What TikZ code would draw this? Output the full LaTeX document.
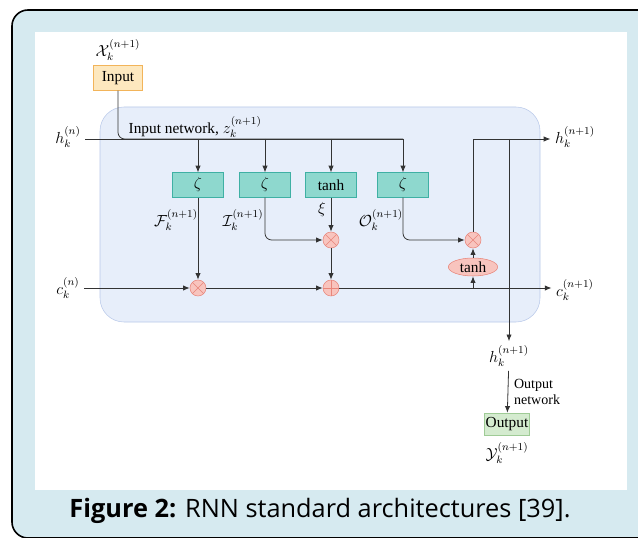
\documentclass[tikz,border=0pt]{standalone}
\usepackage{fontspec}
\setmainfont{Liberation Serif}
\newfontfamily\capfont{Open Sans}
\usetikzlibrary{shapes, arrows.meta, positioning, backgrounds}

\definecolor{framebg}{HTML}{D6EAF0}
\definecolor{netfill}{HTML}{E7EEFA}
\definecolor{netdraw}{HTML}{B9C9EA}
\definecolor{infill}{HTML}{FDE8BF}
\definecolor{indraw}{HTML}{F2B45A}
\definecolor{gatefill}{HTML}{8ED8CE}
\definecolor{gatedraw}{HTML}{3FB0A4}
\definecolor{opfill}{HTML}{F8C4BE}
\definecolor{opdraw}{HTML}{E8857A}
\definecolor{outfill}{HTML}{D4EBCF}
\definecolor{outdraw}{HTML}{9FCB96}
\definecolor{wire}{HTML}{333333}

\tikzset{
  gatebox/.style={draw=gatedraw, fill=gatefill, minimum width=38pt, minimum height=18.5pt, inner sep=1pt},
  multop/.style={circle, draw=opdraw, fill=opfill, minimum size=12pt, inner sep=0pt,
    path picture={\draw[opdraw] (path picture bounding box.north west) -- (path picture bounding box.south east)
      (path picture bounding box.north east) -- (path picture bounding box.south west);}},
  addop/.style={circle, draw=opdraw, fill=opfill, minimum size=12pt, inner sep=0pt,
    path picture={\draw[opdraw] (path picture bounding box.north) -- (path picture bounding box.south)
      (path picture bounding box.west) -- (path picture bounding box.east);}},
  wires/.style={draw=wire, line width=0.6pt},
  gatelabel/.style={inner sep=0.5pt},
}

\begin{document}
\begin{tikzpicture}[x=0.75pt, y=-0.75pt, >={Latex[length=5pt,width=4pt]},
  font=\fontsize{11.5}{13.5}\selectfont]
  \useasboundingbox (0,0) rectangle (638,538);
  \clip (0,0) rectangle (638,538);

  %%%%%%%%%%%%%%%%%% frame
  \fill[white] (0,0) rectangle (638,538);
  \draw[fill=framebg, line width=1.2pt, rounded corners=12pt] (12,10) rectangle (660,538);
  \fill[white] (35,32) rectangle (627,490);
  \draw[netdraw, fill=netfill, rounded corners=18pt] (100,107) rectangle (540,322);

  \node (caption) at (320,511) {\capfont\fontsize{19}{22}\selectfont\textbf{Figure 2:} RNN standard architectures [39].};

  %%%%%%%%%%%%%%%%%% input
  \node (xin) at (118,50) {$\mathcal{X}_k^{(n+1)}$};
  \node (input) at (118,78) [draw=indraw, fill=infill, minimum width=37pt, minimum height=18.5pt, inner sep=1pt] {Input};

  \node (hin) at (68,137) {$h_k^{(n)}$};
  \node (cin) at (68,288) {$c_k^{(n)}$};
  \node (netlabel) at (124,127) [anchor=west] {Input network, $z_k^{(n+1)}$};

  %%%%%%%%%%%%%%%%%% gates
  \node (fgate) at (198,185) [gatebox] {$\zeta$};
  \node (igate) at (265,185) [gatebox] {$\zeta$};
  \node (cgate) at (331,185) [gatebox] {tanh};
  \node (ogate) at (403,185) [gatebox] {$\zeta$};
  \coordinate (top) at (403,139);

  \node (flab) at (176,220) [gatelabel] {$\mathcal{F}_k^{(n+1)}$};
  \node (ilab) at (243,220) [gatelabel] {$\mathcal{I}_k^{(n+1)}$};
  \node (xilab) at (322,210) [gatelabel] {$\xi$};
  \node (olab) at (381,220) [gatelabel] {$\mathcal{O}_k^{(n+1)}$};

  %%%%%%%%%%%%%%%%%% operations
  \node (fmul) at (198,288) [multop] {};
  \node (imul) at (331,240) [multop] {};
  \node (add) at (331,288) [addop] {};
  \node (omul) at (473,240) [multop] {};
  \node (ctanh) at (473,267) [ellipse, draw=opdraw, fill=opfill, minimum width=37pt, minimum height=13.5pt, inner sep=0pt] {tanh};

  \node (hout) at (575,137) {$h_k^{(n+1)}$};
  \node (cout) at (575,290) {$c_k^{(n+1)}$};

  %%%%%%%%%%%%%%%%%% output
  \node (hout2) at (509,356) {$h_k^{(n+1)}$};
  \node (output) at (507,424) [draw=outdraw, fill=outfill, minimum width=34pt, minimum height=16.5pt, inner sep=1pt] {Output};
  \node (ylab) at (507,453) {$\mathcal{Y}_k^{(n+1)}$};

  %%%%%%%%%%%%%%%%%%%%
  %%%%%%%%%%%%%%%%%%%%
  \draw [wires] (hin.east |- top) -- (top);
  \draw [wires, rounded corners=5pt] (input.south) |- (top);
  \draw [wires, ->] (fgate.north |- top) -- (fgate);
  \draw [wires, ->] (igate.north |- top) -- (igate);
  \draw [wires, ->] (cgate.north |- top) -- (cgate);
  \draw [wires, ->] (top) -- (ogate);

  \draw [wires, ->] (fgate) -- (fmul);
  \draw [wires, ->] (cin) -- (fmul);
  \draw [wires, ->] (fmul) -- (add);
  \draw [wires, ->, rounded corners=5pt] (igate) |- (imul);
  \draw [wires, ->] (cgate) -- (imul);
  \draw [wires, ->] (imul) -- (add);
  \draw [wires, ->] (add) -- (cout.west |- add);

  \draw [wires, ->] (ctanh |- add) -- (ctanh);
  \draw [wires, ->] (ctanh) -- (omul);
  \draw [wires, ->, rounded corners=5pt] (ogate) |- (omul);
  \draw [wires, ->] (omul) |- (hout.west |- top);
  \draw [wires, ->] (hout2 |- top) -- (hout2);
  \draw [wires, ->] (hout2) -- node[right, align=left, xshift=1pt, font=\fontsize{10.5}{12}\selectfont] {Output\\network} (output);

\end{tikzpicture}
\end{document}
